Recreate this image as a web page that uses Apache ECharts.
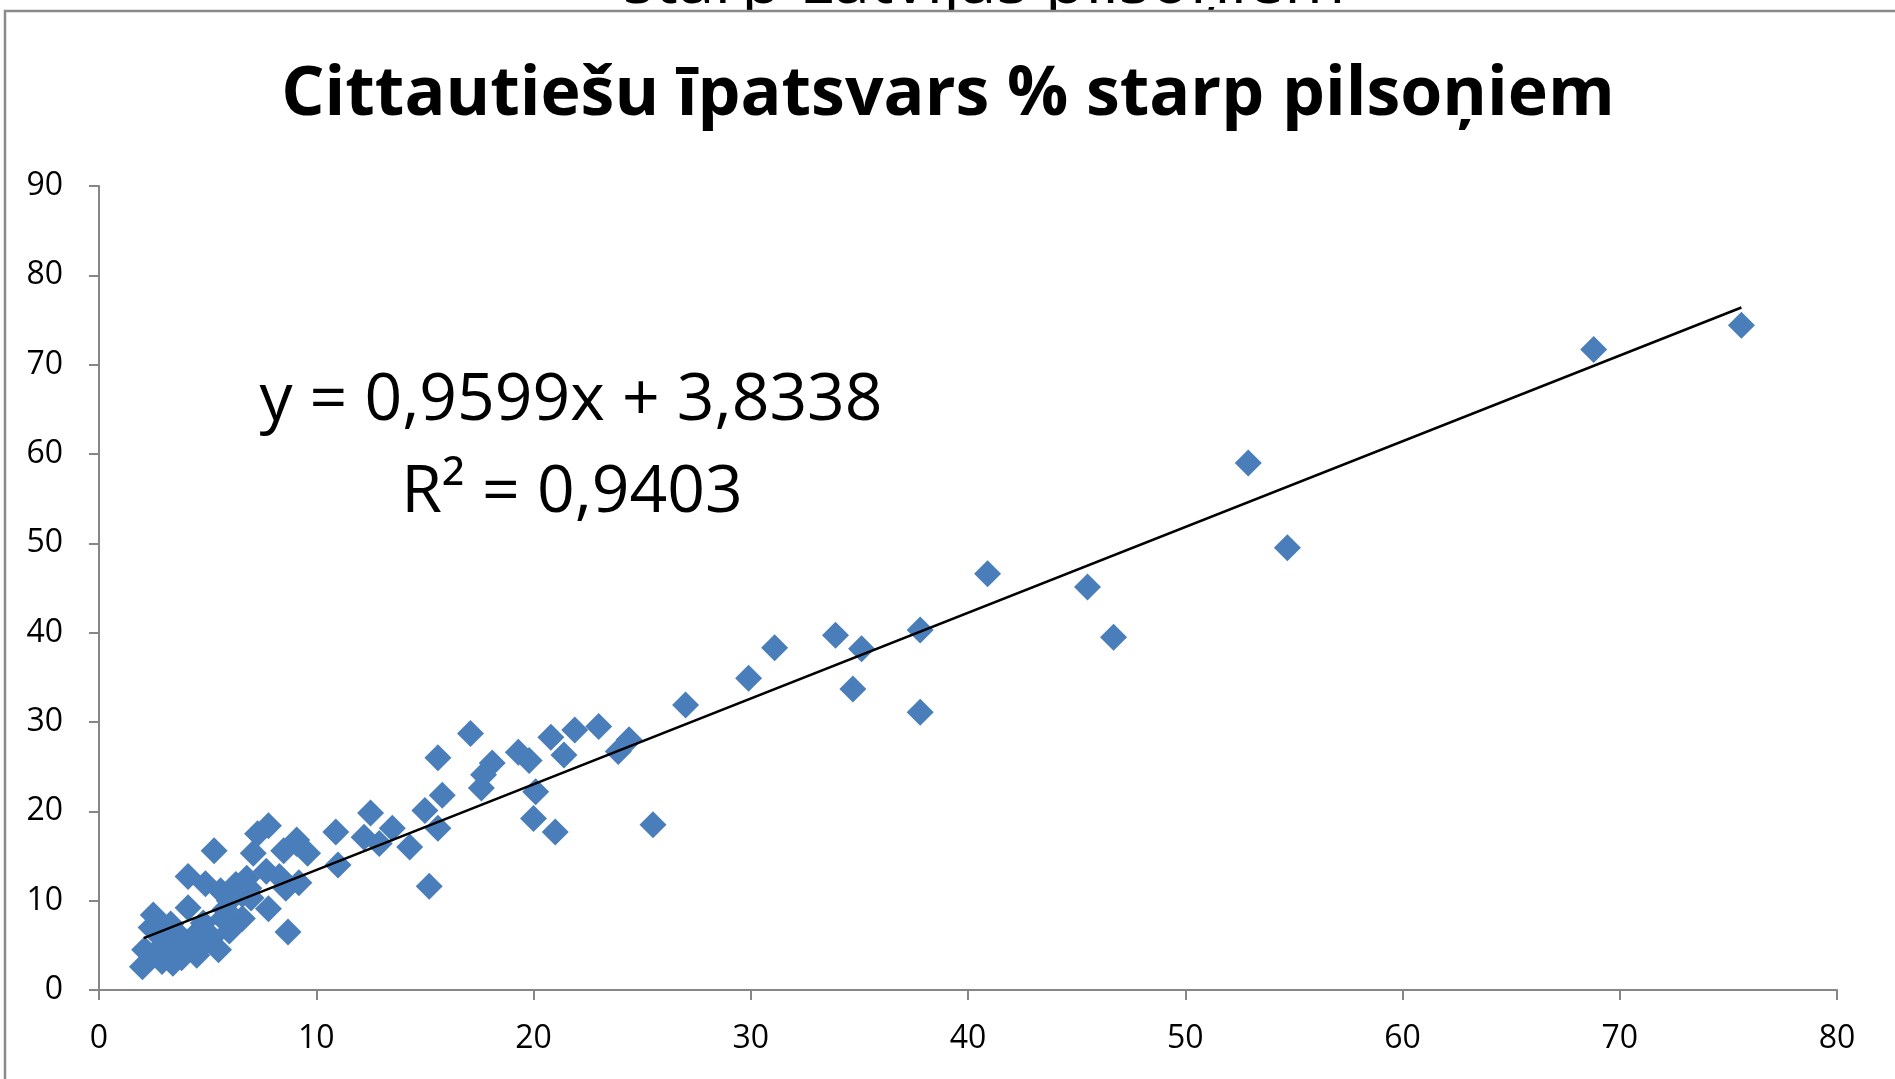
<!DOCTYPE html>
<html>
<head>
<meta charset="utf-8">
<script src="https://cdn.jsdelivr.net/npm/echarts@6/dist/echarts.min.js"></script>
<style>
  html, body { margin: 0; padding: 0; background: #ffffff; }
  #chart { width: 1895px; height: 1079px; }
</style>
</head>
<body>
<div id="chart"></div>
<script>
// ---- Data ----
const titleText = 'Cittautiešu īpatsvars % starp pilsoņiem';
const hiddenTitleText = 'starp Latvijas pilsoņiem';
const equationLine1 = 'y = 0,9599x + 3,8338';
const equationLine2 = 'R² = 0,9403';

const pointsX = [
  2.0, 2.1, 2.5, 2.4, 2.9, 3.4, 3.2, 2.8, 3.5, 3.9, 4.1, 4.1, 4.3, 4.6, 4.9, 5.0, 5.3, 5.5, 5.6, 5.7,
  6.0, 6.0, 6.6, 6.6, 6.8, 7.1, 7.3, 7.8, 7.7, 7.8, 8.3, 8.6, 8.7, 8.5, 9.1, 9.2, 9.6,
  3.0, 3.8, 4.5, 5.2, 4.8, 3.3, 5.8, 6.3, 7.0, 2.6, 6.9, 9.1,
  10.9, 11.0, 12.2, 12.5, 12.9, 13.5, 14.3, 15.0, 15.2, 15.6, 15.6, 15.8, 17.1, 17.6, 17.7, 18.1,
  19.3, 19.8, 20.0, 20.1, 20.8, 21.0, 21.4, 21.9, 23.0, 23.9, 24.4, 25.5, 27.0, 29.9, 31.1,
  33.9, 34.7, 35.1, 37.8, 37.8, 40.9, 45.5, 46.7, 52.9, 54.7, 68.8, 75.6
];
const pointsY = [
  2.6, 4.5, 8.4, 7.0, 3.2, 3.0, 4.6, 6.0, 6.6, 5.5, 9.2, 12.7, 4.6, 6.6, 11.9, 5.5, 15.6, 4.5, 11.1, 8.0,
  10.0, 6.6, 8.0, 10.7, 12.5, 15.3, 17.5, 18.4, 13.3, 9.1, 12.7, 11.4, 6.5, 15.6, 16.8, 12.0, 15.3,
  5.2, 3.6, 3.9, 5.9, 7.5, 7.4, 9.0, 11.8, 10.3, 4.0, 11.4, 16.4,
  17.7, 14.0, 17.1, 19.8, 16.4, 18.1, 16.0, 20.1, 11.6, 18.1, 26.0, 21.8, 28.7, 22.6, 24.1, 25.4,
  26.6, 25.7, 19.2, 22.2, 28.3, 17.7, 26.3, 29.1, 29.5, 26.7, 28.0, 18.5, 31.9, 34.9, 38.3,
  39.7, 33.7, 38.2, 40.3, 31.1, 46.6, 45.1, 39.5, 59.0, 49.5, 71.7, 74.4
];
// Trend line end points
const trendX = [2.06, 75.6];
const trendY = [5.81, 76.4];

const xTicks = [0, 10, 20, 30, 40, 50, 60, 70, 80];
const yTicks = [0, 10, 20, 30, 40, 50, 60, 70, 80, 90];

// ---- Build chart ----
const scatterData = pointsX.map((x, i) => [x, pointsY[i]]);
const trendData = trendX.map((x, i) => [x, trendY[i]]);

const chart = echarts.init(document.getElementById('chart'), null, { renderer: 'canvas' });
const axisGray = '#868686';
const font = '"Open Sans", "Noto Sans", sans-serif';

chart.setOption({
  backgroundColor: '#ffffff',
  animation: false,
  grid: { left: 99, right: 58, top: 186, bottom: 89, containLabel: false },
  xAxis: {
    type: 'value',
    min: xTicks[0], max: xTicks[xTicks.length - 1], interval: 10,
    axisLine: { show: true, onZero: false, lineStyle: { color: axisGray, width: 2 } },
    axisTick: { show: true, inside: false, length: 10, lineStyle: { color: axisGray, width: 2 } },
    axisLabel: { color: '#000', fontSize: 32, fontFamily: font, margin: 33 },
    splitLine: { show: false }
  },
  yAxis: {
    type: 'value',
    min: yTicks[0], max: yTicks[yTicks.length - 1], interval: 10,
    axisLine: { show: true, onZero: false, lineStyle: { color: axisGray, width: 2 } },
    axisTick: { show: true, inside: false, length: 10, lineStyle: { color: axisGray, width: 2 } },
    axisLabel: { color: '#000', fontSize: 32, fontFamily: font, margin: 36 },
    splitLine: { show: false }
  },
  series: [
    {
      type: 'scatter',
      data: scatterData,
      symbol: 'diamond',
      symbolSize: 27,
      itemStyle: { color: '#4A7EBB', opacity: 1 },
      z: 2
    },
    {
      type: 'line',
      data: trendData,
      symbol: 'none',
      lineStyle: { color: '#000000', width: 2.5 },
      z: 3,
      silent: true
    }
  ],
  graphic: [
    {
      type: 'text', z: -20,
      style: {
        text: hiddenTitleText, x: 984, y: -16,
        fontSize: 66, fontFamily: font, fontWeight: 'normal', fill: '#000',
        align: 'center', verticalAlign: 'middle'
      }
    },
    {
      type: 'rect', z: -10,
      shape: { x: 5, y: 11, width: 2000, height: 1200 },
      style: { fill: '#ffffff', stroke: '#8a8a8a', lineWidth: 2.5 }
    },
    {
      type: 'text', z: 5,
      style: {
        text: titleText, x: 948, y: 96,
        fontSize: 68, fontFamily: font, fontWeight: 'bold', fill: '#000',
        align: 'center', verticalAlign: 'middle'
      }
    },
    {
      type: 'text', z: 5,
      style: {
        text: equationLine1, x: 571, y: 401,
        fontSize: 66, fontFamily: font, fill: '#000',
        align: 'center', verticalAlign: 'middle'
      }
    },
    {
      type: 'text', z: 5,
      style: {
        text: equationLine2, x: 572, y: 493,
        fontSize: 66, fontFamily: font, fill: '#000',
        align: 'center', verticalAlign: 'middle'
      }
    }
  ]
});
</script>
</body>
</html>
